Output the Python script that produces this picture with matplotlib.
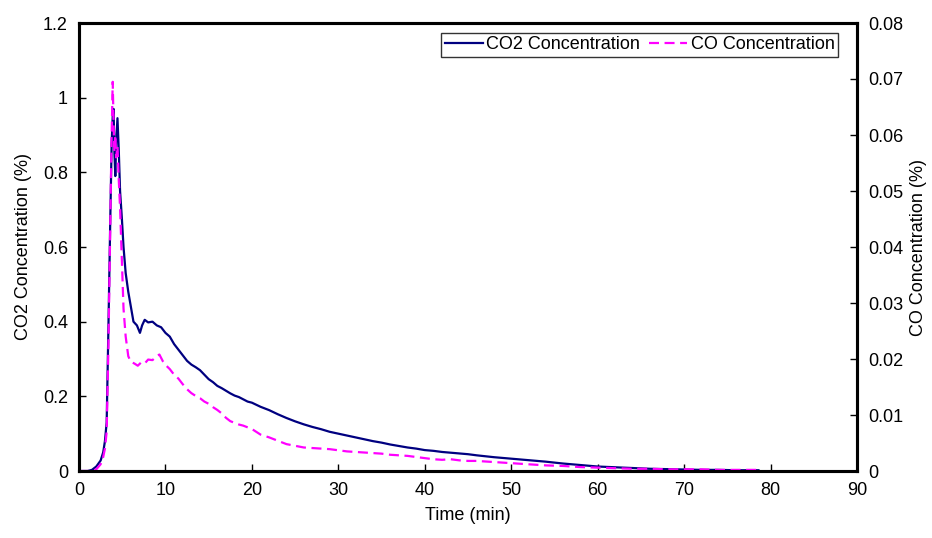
import matplotlib
matplotlib.use("Agg")
import matplotlib.pyplot as plt

plt.rcParams['font.family'] = ['Liberation Sans', 'DejaVu Sans']

# CO2 concentration (%) over time (min)
co2_time = [0, 1.0, 1.5, 2.0, 2.5, 2.8, 3.0, 3.2, 3.4, 3.6, 3.78, 3.9, 4.0,
            4.1, 4.2, 4.3, 4.45, 4.6, 4.75, 4.95, 5.15, 5.4, 5.7, 6.0, 6.3,
            6.7, 7.05, 7.3, 7.6, 8.0, 8.5, 9.0, 9.5, 10.0, 10.5, 11.0, 11.5,
            12.0, 12.5, 13.0, 13.5, 14.0, 14.5, 15.0, 15.5, 16.0, 16.5, 17.0,
            17.5, 18.0, 18.5, 19.0, 19.5, 20.0, 21, 22, 23, 24, 25, 26, 27, 28,
            29, 30, 31, 32, 33, 34, 35, 36, 37, 38, 39, 40, 41, 42, 43, 44, 45,
            46, 48, 50, 52, 54, 56, 58, 60, 62, 64, 66, 68, 70, 72, 74, 76, 78.6]
co2_conc = [0.0, 0.0, 0.003, 0.012, 0.028, 0.05, 0.08, 0.13, 0.38, 0.65, 0.88,
            0.95, 0.97, 0.85, 0.79, 0.88, 0.945, 0.86, 0.75, 0.68, 0.60, 0.53,
            0.48, 0.44, 0.40, 0.39, 0.37, 0.39, 0.405, 0.398, 0.40, 0.39,
            0.385, 0.37, 0.36, 0.34, 0.325, 0.31, 0.295, 0.285, 0.278, 0.27,
            0.258, 0.246, 0.238, 0.228, 0.222, 0.215, 0.208, 0.202, 0.198,
            0.192, 0.186, 0.183, 0.172, 0.163, 0.152, 0.142, 0.133, 0.125,
            0.118, 0.112, 0.105, 0.100, 0.095, 0.090, 0.085, 0.080, 0.076,
            0.071, 0.067, 0.063, 0.060, 0.056, 0.054, 0.051, 0.049, 0.047,
            0.045, 0.042, 0.037, 0.033, 0.029, 0.025, 0.020, 0.016, 0.012,
            0.010, 0.008, 0.006, 0.005, 0.004, 0.003, 0.003, 0.002, 0.002]

# CO concentration (%) over time (min)
co_time = [0, 1.5, 2.0, 2.5, 2.8, 3.0, 3.2, 3.4, 3.6, 3.75, 3.9, 4.0, 4.1,
           4.2, 4.3, 4.45, 4.6, 4.75, 4.95, 5.15, 5.4, 5.7, 6.0, 6.4, 6.8,
           7.2, 7.6, 8.0, 8.5, 9.0, 9.3, 9.7, 10.1, 10.5, 11.0, 11.5, 12.0,
           12.5, 13.0, 13.5, 14.0, 14.5, 15.0, 15.5, 16.0, 16.5, 17.0, 17.5,
           18.0, 18.5, 19.0, 19.5, 20.0, 21, 22, 23, 24, 25, 26, 27, 28, 29,
           30, 31, 32, 33, 34, 35, 36, 37, 38, 39, 40, 41, 42, 43, 44, 45, 46,
           48, 50, 52, 54, 56, 58, 60, 62, 64, 66, 68, 70, 72, 74, 76, 78.6]
co_conc = [0.0, 0.0, 0.0003, 0.0012, 0.0025, 0.004, 0.007, 0.022, 0.042,
           0.058, 0.0695, 0.062, 0.057, 0.060, 0.056, 0.058, 0.052, 0.047,
           0.038, 0.029, 0.024, 0.0205, 0.0195, 0.0192, 0.0188, 0.0194,
           0.0192, 0.0199, 0.0198, 0.0205, 0.0208, 0.0196, 0.0188, 0.0182,
           0.0172, 0.0165, 0.0155, 0.0146, 0.0139, 0.0134, 0.0130, 0.0124,
           0.0120, 0.0114, 0.0109, 0.0103, 0.0095, 0.0089, 0.0086, 0.0083,
           0.0081, 0.0078, 0.0075, 0.0065, 0.0060, 0.0054, 0.0048, 0.0045,
           0.0042, 0.0041, 0.0040, 0.0039, 0.0037, 0.0035, 0.0034, 0.0033,
           0.0032, 0.0031, 0.0029, 0.0028, 0.0027, 0.0025, 0.0023, 0.0021,
           0.0020, 0.0021, 0.0019, 0.0018, 0.0018, 0.0016, 0.0014, 0.0012,
           0.0010, 0.0009, 0.0007, 0.0006, 0.0005, 0.0004, 0.0004, 0.0003,
           0.0003, 0.0003, 0.0002, 0.0002, 0.0002]

x_ticks = [0, 10, 20, 30, 40, 50, 60, 70, 80, 90]
co2_ticks = [0, 0.2, 0.4, 0.6, 0.8, 1.0, 1.2]
co2_tick_labels = ['0', '0.2', '0.4', '0.6', '0.8', '1', '1.2']
co_ticks = [0, 0.01, 0.02, 0.03, 0.04, 0.05, 0.06, 0.07, 0.08]
co_tick_labels = ['0', '0.01', '0.02', '0.03', '0.04', '0.05', '0.06', '0.07', '0.08']

FS = 13
fig = plt.figure(figsize=(9.32, 5.38), dpi=100)
ax = fig.add_axes([79 / 932, 1 - 471 / 538, 778 / 932, 448 / 538])
ax2 = ax.twinx()

l1, = ax.plot(co2_time, co2_conc, color='#000080', lw=1.6,
              label='CO2 Concentration')
l2, = ax2.plot(co_time, co_conc, color='#FF00FF', lw=1.6,
               dashes=(4.5, 2.5), label='CO Concentration')

ax.set_xlim(0, 90)
ax.set_ylim(0, 1.2)
ax2.set_ylim(0, 0.08)
ax.set_xticks(x_ticks)
ax.set_xticklabels([str(v) for v in x_ticks], fontsize=FS)
ax.set_yticks(co2_ticks)
ax.set_yticklabels(co2_tick_labels, fontsize=FS)
ax2.set_yticks(co_ticks)
ax2.set_yticklabels(co_tick_labels, fontsize=FS)

for a in (ax, ax2):
    for s in a.spines.values():
        s.set_linewidth(2.2)
        s.set_color('black')
ax.tick_params(axis='both', direction='in', length=5, width=1, pad=8)
ax2.tick_params(axis='y', direction='in', length=5, width=1, pad=8)

ax.set_xlabel('Time (min)', fontsize=FS, labelpad=6)
ax.set_ylabel('CO2 Concentration (%)', fontsize=FS, labelpad=8)
ax2.set_ylabel('CO Concentration (%)', fontsize=FS, labelpad=5)

leg = ax2.legend(handles=[l1, l2], loc='upper right',
                 bbox_to_anchor=(0.976, 0.978), ncol=2, fontsize=FS,
                 frameon=True, fancybox=False, handlelength=2.1,
                 handletextpad=0.2, columnspacing=0.5, borderpad=0.2,
                 borderaxespad=0)
leg.get_frame().set_edgecolor('black')
leg.get_frame().set_linewidth(1.0)

fig.savefig('out.png', dpi=100)
